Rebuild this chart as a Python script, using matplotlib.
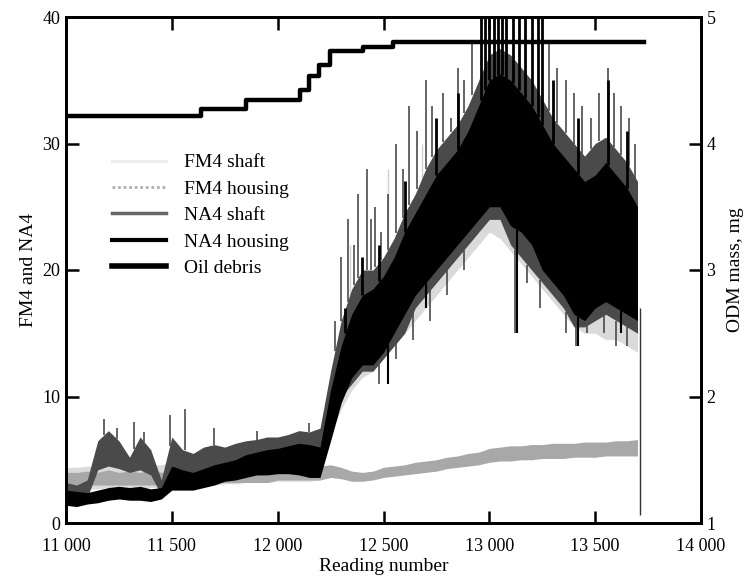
import numpy as np
import matplotlib
matplotlib.use("Agg")
import matplotlib.pyplot as plt
from matplotlib.ticker import FuncFormatter
from matplotlib.lines import Line2D

plt.rcParams['font.family'] = ['Liberation Serif', 'DejaVu Serif']

# ---------------- data ----------------
readings = list(range(11000, 13701, 50))

na4_housing_lo = [1.4, 1.3, 1.5, 1.6, 1.8, 1.9, 1.8, 1.8, 1.7, 1.9,
                  2.6, 2.6, 2.6, 2.8, 3.0, 3.3, 3.4, 3.6, 3.8, 3.8,
                  3.9, 3.9, 3.8, 3.6, 3.6, 6.5, 9.5, 11.5, 12.5, 12.5,
                  13.5, 15, 16.5, 18, 19, 20, 21, 22, 23, 24,
                  25, 25, 23.5, 23, 22, 20, 19, 18, 16.5, 16,
                  17, 17.5, 17, 16.5, 16]
na4_housing_hi = [2.6, 2.5, 2.4, 2.6, 2.8, 2.9, 2.8, 2.9, 2.7, 2.8,
                  4.5, 4.2, 4.0, 4.3, 4.6, 4.8, 5.0, 5.4, 5.6, 5.8,
                  5.9, 6.1, 6.3, 6.2, 6.0, 10.5, 14, 16.5, 18, 18.5,
                  19.5, 21, 23, 24.5, 26, 27.5, 28.5, 29.5, 31, 33,
                  35, 35.5, 35, 34, 33, 31.5, 30, 29, 28, 27,
                  27.5, 28.5, 27.5, 26.5, 25]

na4_shaft_lo = [1.8, 1.8, 2.0, 4.2, 4.5, 4.3, 4.0, 4.2, 3.8, 2.2,
                3.5, 3.3, 3.2, 3.4, 3.5, 3.6, 3.8, 4.0, 4.1, 4.2,
                4.2, 4.2, 4.0, 3.8, 3.8, 7.5, 10, 11, 12, 12,
                13, 14, 15, 17, 18, 19, 20, 21, 22, 23,
                24, 24, 22, 21, 20, 19, 18, 17, 15.5, 15.5,
                16, 16.5, 16, 15.5, 15]
na4_shaft_hi = [3.2, 3.0, 3.4, 6.5, 7.3, 6.5, 5.2, 6.8, 5.8, 3.4,
                6.8, 5.8, 5.5, 6.0, 6.2, 6.0, 6.3, 6.5, 6.6, 6.8,
                6.8, 7.0, 7.3, 7.2, 7.5, 12, 16, 18.5, 20, 20,
                21, 22.5, 24.5, 26, 28, 29.5, 30.5, 31.5, 33, 35,
                37, 37.5, 37, 36, 35, 33.5, 32, 31, 30, 29,
                30, 30.5, 29.5, 28.5, 27]

fm4_housing_lo = [2.9, 3.0, 3.0, 3.0, 3.0, 3.0, 3.0, 3.0, 3.0, 3.0,
                  3.0, 3.2, 3.2, 3.2, 3.2, 3.2, 3.2, 3.2, 3.2, 3.2,
                  3.4, 3.4, 3.4, 3.4, 3.4, 3.6, 3.5, 3.3, 3.3, 3.4,
                  3.6, 3.7, 3.8, 3.9, 4.0, 4.1, 4.3, 4.4, 4.5, 4.6,
                  4.8, 4.9, 4.9, 5.0, 5.0, 5.1, 5.1, 5.1, 5.2, 5.2,
                  5.2, 5.3, 5.3, 5.3, 5.3]
fm4_housing_hi = [4.0, 4.0, 4.1, 4.0, 4.2, 4.0, 4.1, 4.0, 4.2, 4.0,
                  4.2, 4.3, 4.3, 4.3, 4.3, 4.3, 4.3, 4.3, 4.3, 4.3,
                  4.5, 4.5, 4.5, 4.5, 4.5, 4.6, 4.4, 4.1, 4.0, 4.1,
                  4.4, 4.5, 4.6, 4.8, 4.9, 5.0, 5.2, 5.3, 5.5, 5.6,
                  5.9, 6.0, 6.1, 6.1, 6.2, 6.2, 6.3, 6.3, 6.3, 6.4,
                  6.4, 6.4, 6.5, 6.5, 6.6]

fm4_shaft_lo = [2.6, 2.6, 2.7, 2.7, 2.8, 2.8, 2.8, 2.8, 2.8, 2.8,
                3.0, 3.0, 3.0, 3.0, 3.0, 3.1, 3.1, 3.2, 3.2, 3.2,
                3.3, 3.3, 3.3, 3.3, 3.4, 7.0, 9.0, 10.5, 11.5, 12,
                13, 14, 15, 16, 17, 18, 19, 20, 21, 22,
                23, 22.5, 21.5, 20.5, 19.5, 18.5, 17.5, 16.5, 15.5, 15,
                15, 14.5, 14.5, 14, 13.5]
fm4_shaft_hi = [4.4, 4.4, 4.5, 4.5, 4.6, 4.6, 4.6, 4.6, 4.6, 4.6,
                4.8, 4.8, 4.8, 4.9, 4.9, 5.0, 5.0, 5.0, 5.1, 5.1,
                5.2, 5.2, 5.3, 5.3, 5.4, 9.0, 11.5, 13, 14, 14.5,
                15.5, 16.5, 18, 19.5, 20.5, 21.5, 22.5, 23.5, 24.5, 25.5,
                27, 26.5, 25, 23.5, 22.5, 21.5, 20.5, 19.5, 18.5, 18,
                18, 17.5, 17.5, 17, 16]

# upward spikes of the NA4 shaft trace (reading, top value)
na4_shaft_spike_x = [11180, 11240, 11320, 11370, 11490, 11560, 11700, 11900, 12150,
                     12270, 12300, 12330, 12360, 12380, 12420, 12440, 12460, 12490,
                     12520, 12560, 12590, 12620, 12660, 12700, 12730, 12780, 12820,
                     12850, 12880, 12920, 13280, 13320, 13360, 13400, 13440, 13480,
                     13520, 13560, 13590, 13620, 13660, 13690]
na4_shaft_spike_top = [8.2, 7.5, 8.0, 7.2, 8.5, 9.0, 7.5, 7.3, 7.9,
                       16, 21, 24, 22, 26, 28, 24, 25, 23,
                       26, 30, 28, 33, 31, 35, 33, 34, 32,
                       36, 35, 38, 38, 36, 35, 34, 33, 32,
                       34, 36, 34, 33, 32, 30]
# downward spikes of the NA4 shaft trace (reading, bottom value)
na4_shaft_dip_x = [12480, 12560, 12640, 12720, 12800, 12880, 13120, 13180, 13240,
                   13300, 13360, 13410, 13460, 13540, 13600, 13650]
na4_shaft_dip_bottom = [11, 13, 14.5, 16, 18, 20, 15, 19, 17,
                        18, 15, 14, 15, 15, 14, 14]
# NA4 housing excursions (up) and dips (down)
na4_housing_spike_x = [12320, 12400, 12480, 12600, 12750, 12850,
                       12960, 12980, 13000, 13020, 13040, 13060, 13080, 13110,
                       13140, 13170, 13200, 13230, 13250,
                       13300, 13420, 13560, 13650]
na4_housing_spike_top = [17, 21, 22, 27, 32, 34,
                         40, 40, 40, 40, 40, 40, 40, 40,
                         40, 40, 40, 40, 40,
                         35, 32, 35, 31]
na4_housing_dip_x = [12520, 12700, 13130, 13420, 13620]
na4_housing_dip_bottom = [11, 17, 15, 14, 15]
# light FM4 shaft excursions
fm4_shaft_spike_x = [12340, 12520, 12680, 13000, 13020, 13600]
fm4_shaft_spike_top = [22, 28, 30, 27, 27, 20]

# oil debris step trace (right axis)
oil_x = [11000, 11640, 11850, 12107, 12150, 12197, 12245, 12405, 12547, 13730]
oil_y = [4.22, 4.27, 4.34, 4.42, 4.53, 4.62, 4.73, 4.76, 4.80, 4.80]

# end of record drop
end_x = 13712
end_lo = 0.6
end_hi = 17

# ---------------- figure ----------------
fig = plt.figure(figsize=(7.48, 5.77), dpi=100)
ax = fig.add_axes([66 / 748, 1 - 523 / 577, 635 / 748, 506 / 577])
ax2 = ax.twinx()

x = np.array(readings)
ax.fill_between(x, fm4_shaft_lo, fm4_shaft_hi, color='#dadada', lw=0, zorder=1)
ax.vlines(fm4_shaft_spike_x, np.interp(fm4_shaft_spike_x, x, fm4_shaft_hi),
          fm4_shaft_spike_top, color='#cfcfcf', lw=1.0, zorder=1)
ax.fill_between(x, fm4_housing_lo, fm4_housing_hi, color='#a8a8a8', lw=0, zorder=2)
ax.fill_between(x, na4_shaft_lo, na4_shaft_hi, color='#4a4a4a', lw=0, zorder=3)
ax.vlines(na4_shaft_spike_x, np.interp(na4_shaft_spike_x, x, na4_shaft_hi),
          na4_shaft_spike_top, color='#4a4a4a', lw=1.2, zorder=3)
ax.vlines(na4_shaft_dip_x, na4_shaft_dip_bottom, np.interp(na4_shaft_dip_x, x, na4_shaft_lo),
          color='#4a4a4a', lw=1.2, zorder=3)
ax.fill_between(x, na4_housing_lo, na4_housing_hi, color='black', lw=0, zorder=4)
ax.vlines(na4_housing_spike_x, np.interp(na4_housing_spike_x, x, na4_housing_hi),
          na4_housing_spike_top, color='black', lw=2.0, zorder=4)
ax.vlines(na4_housing_dip_x, na4_housing_dip_bottom,
          np.interp(na4_housing_dip_x, x, na4_housing_lo), color='black', lw=1.5, zorder=4)
ax.vlines([end_x], end_lo, end_hi, color='#333333', lw=1.0, zorder=4)

ax2.step(oil_x, oil_y, where='post', color='black', lw=3.2, zorder=5)

ax.set_xlim(11000, 14000)
ax.set_ylim(0, 40)
ax2.set_ylim(1, 5)

ax.set_xticks([11000, 11500, 12000, 12500, 13000, 13500, 14000])
ax.xaxis.set_major_formatter(FuncFormatter(lambda v, p: f"{int(v):,}".replace(",", " ")))
ax.set_yticks([0, 10, 20, 30, 40])
ax2.set_yticks([1, 2, 3, 4, 5])

for a in (ax, ax2):
    for s in a.spines.values():
        s.set_linewidth(2.0)
ax.tick_params(axis='both', direction='in', length=9, width=1.8, labelsize=13,
               top=True, pad=4)
ax.tick_params(axis='x', pad=11)
ax2.tick_params(axis='y', direction='in', length=9, width=1.8, labelsize=13, pad=4)

ax.set_xlabel('Reading number', fontsize=14, labelpad=2)
ax.set_ylabel('FM4 and NA4', fontsize=14, labelpad=4)
ax2.set_ylabel('ODM mass, mg', fontsize=14, labelpad=8)

handles = [
    Line2D([], [], color='#ececec', lw=2),
    Line2D([], [], color='#b0b0b0', lw=2, ls=(0, (1, 1))),
    Line2D([], [], color='#666666', lw=2.5),
    Line2D([], [], color='black', lw=3),
    Line2D([], [], color='black', lw=4),
]
labels = ['FM4 shaft', 'FM4 housing', 'NA4 shaft', 'NA4 housing', 'Oil debris']
ax2.legend(handles, labels, loc='upper left', bbox_to_anchor=(0.06, 0.745),
           frameon=False, fontsize=14, handlelength=2.8, handletextpad=0.9,
           labelspacing=0.45, borderaxespad=0)

fig.savefig('out.png', dpi=100)
